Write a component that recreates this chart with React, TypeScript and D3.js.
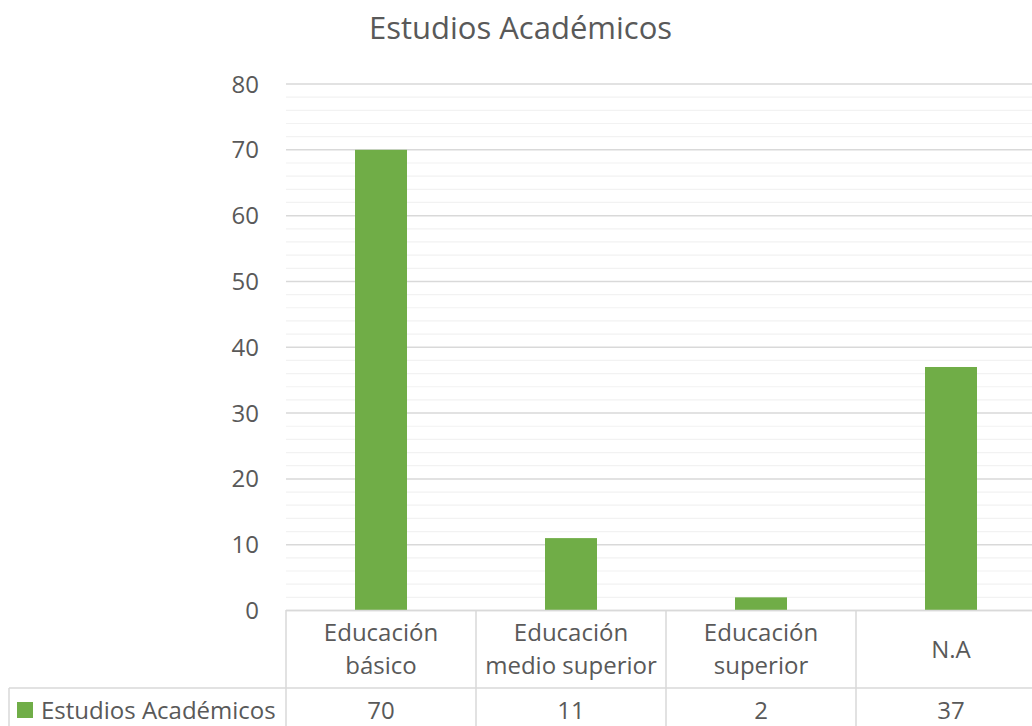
import React from "react";
import * as d3 from "d3";

const categories = [["Educación", "básico"], ["Educación", "medio superior"], ["Educación", "superior"], ["N.A"]];
const values = [70, 11, 2, 37];
const seriesName = "Estudios Académicos";
const title = "Estudios Académicos";
const yTicks = [0, 10, 20, 30, 40, 50, 60, 70, 80];

const W = 1032, H = 726;
const FONT = "'Open Sans', 'Noto Sans', sans-serif";
const TEXT = "#595959";
const GREEN = "#70ad47";
const FS = 24;

export default function App() {
  const y = d3.scaleLinear().domain([0, 80]).range([610.5, 84]);
  const x = d3.scaleBand<number>().domain(d3.range(categories.length)).range([286, 1046]).paddingInner(0).paddingOuter(0);
  const bw = 52;
  const minor = d3.range(0, 81, 2);
  return (
    <svg width={W} height={H} style={{ position: "absolute", left: 0, top: 0, background: "#fff" }} fontFamily={FONT}>
      <text x={520.5} y={39} textAnchor="middle" fontSize={31} fill={TEXT}>{title}</text>
      {minor.map((v) => (
        <line key={"m" + v} x1={286} x2={W} y1={y(v)} y2={y(v)} stroke={v % 10 === 0 ? "#d9d9d9" : "#f2f2f2"} strokeWidth={v % 10 === 0 ? 1.5 : 1.2} />
      ))}
      {yTicks.map((v) => (
        <text key={"t" + v} x={259} y={y(v) + 8.5} textAnchor="end" fontSize={FS} fill={TEXT}>{v}</text>
      ))}
      {values.map((v, i) => (
        <rect key={"b" + i} x={x(i)! + x.bandwidth() / 2 - bw / 2} y={y(v)} width={bw} height={y(0) - y(v)} fill={GREEN} />
      ))}
      {/* data table */}
      <line x1={286} x2={W} y1={610.5} y2={610.5} stroke="#d9d9d9" strokeWidth={1.5} />
      <line x1={9} x2={W} y1={688} y2={688} stroke="#d9d9d9" strokeWidth={1.5} />
      <line x1={9} x2={9} y1={688} y2={H} stroke="#d9d9d9" strokeWidth={1.5} />
      {d3.range(categories.length + 1).map((i) => {
        const xx = i < categories.length ? x(i)! : 1046;
        return <line key={"v" + i} x1={xx} x2={xx} y1={610} y2={H} stroke="#d9d9d9" strokeWidth={1.5} />;
      })}
      {categories.map((lines, i) => {
        const cx = x(i)! + x.bandwidth() / 2;
        const base = lines.length === 2 ? 641 : 658;
        return lines.map((l, j) => (
          <text key={"c" + i + j} x={cx} y={base + j * 33} textAnchor="middle" fontSize={FS} fill={TEXT}>{l}</text>
        ));
      })}
      {values.map((v, i) => (
        <text key={"v" + i} x={x(i)! + x.bandwidth() / 2} y={719} textAnchor="middle" fontSize={FS} fill={TEXT}>{v}</text>
      ))}
      <rect x={17} y={702} width={16} height={16} fill={GREEN} />
      <text x={41} y={719} fontSize={FS} fill={TEXT}>{seriesName}</text>
    </svg>
  );
}
